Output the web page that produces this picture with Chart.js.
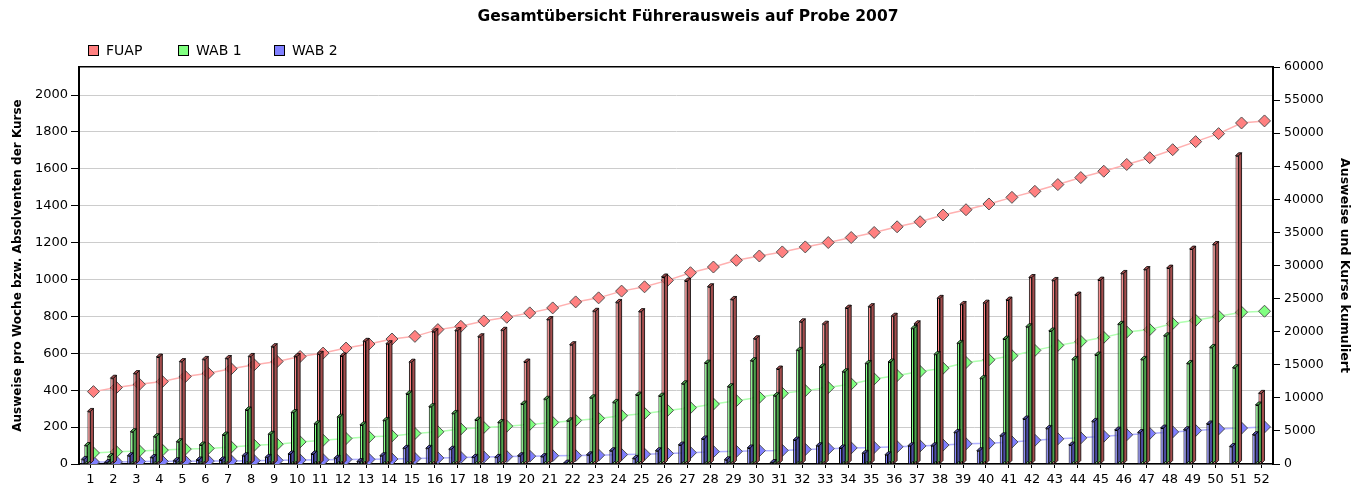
<!DOCTYPE html>
<html lang="de">
<head>
<meta charset="utf-8">
<title>Gesamtübersicht Führerausweis auf Probe 2007</title>
<script src="https://cdn.jsdelivr.net/npm/chart.js@4.4.1/dist/chart.umd.min.js"></script>
<style>
  html, body { margin: 0; padding: 0; background: #fff; }
  #wrap { position: relative; width: 1356px; height: 490px; }
  #title { position: absolute; left: 0; top: 7px; width: 1376px; text-align: center;
           font: bold 15.5px 'DejaVu Sans', sans-serif; color: #000; }
  #legend { position: absolute; left: 88px; top: 43px; font: 14px 'DejaVu Sans', sans-serif; color: #000; }
  #legend .item { position: absolute; top: 0; white-space: nowrap; line-height: 15px; }
  #legend .box { display: inline-block; width: 9px; height: 9px; border: 1px solid #000; vertical-align: -1px; margin-right: 7px; }
</style>
</head>
<body>
<div id="wrap">
  <canvas id="chart" width="1356" height="490"></canvas>
  <div id="title">Gesamtübersicht Führerausweis auf Probe 2007</div>
  <div id="legend"></div>
</div>
<script>
// Kalenderwochen
const weeks = ['1','2','3','4','5','6','7','8','9','10','11','12','13','14','15','16','17','18','19','20',
  '21','22','23','24','25','26','27','28','29','30','31','32','33','34','35','36','37','38','39','40',
  '41','42','43','44','45','46','47','48','49','50','51','52'];

// Ausweise pro Woche (linke Achse)
const fuap = [285, 465, 490, 580, 555, 567, 572, 583, 636, 583, 595, 586, 665, 652, 552, 717, 723, 690, 725, 553,
  783, 647, 828, 876, 826, 1014, 992, 961, 892, 679, 515, 771, 758, 845, 853, 801, 760, 898, 865, 872,
  889, 1011, 995, 916, 997, 1033, 1054, 1062, 1165, 1190, 1671, 383];
const wab1 = [100, 40, 175, 148, 121, 103, 157, 293, 161, 279, 218, 254, 212, 236, 380, 311, 274, 238, 225, 325,
  351, 234, 359, 334, 374, 368, 435, 547, 419, 560, 370, 616, 526, 500, 545, 553, 735, 594, 654, 464,
  677, 744, 721, 567, 591, 757, 567, 695, 545, 632, 522, 320];
const wab2 = [25, 8, 45, 35, 18, 22, 22, 45, 36, 54, 54, 31, 13, 45, 85, 85, 80, 36, 36, 45,
  40, 5, 50, 72, 30, 72, 103, 136, 23, 87, 8, 130, 99, 87, 58, 50, 99, 99, 171, 72,
  153, 244, 193, 103, 231, 184, 171, 195, 186, 217, 95, 159];

// kumuliert (rechte Achse)
const fuapCum = [10940, 11550, 12050, 12460, 13220, 13720, 14390, 14990, 15490, 16250, 16760, 17520, 18130, 18890, 19290, 20310, 20810, 21620, 22180, 22840,
  23590, 24500, 25110, 26130, 26780, 27750, 28910, 29770, 30790, 31440, 32050, 32810, 33470, 34230, 34990, 35850, 36610, 37630, 38430, 39300,
  40300, 41210, 42230, 43290, 44250, 45270, 46290, 47500, 48720, 49930, 51540, 51850];
const wab1Cum = [1670, 1850, 1980, 2100, 2250, 2350, 2560, 2830, 2990, 3340, 3590, 3850, 4100, 4250, 4610, 4860, 5300, 5520, 5720, 5980,
  6280, 6580, 6890, 7290, 7650, 8100, 8510, 9060, 9570, 10080, 10680, 11090, 11550, 12100, 12860, 13370, 13980, 14480, 15340, 15750,
  16360, 17170, 17930, 18530, 19140, 19950, 20310, 21220, 21720, 22330, 22940, 23090];
const wab2Cum = [300, 320, 360, 400, 420, 440, 470, 510, 550, 600, 650, 690, 700, 750, 830, 920, 1000, 1060, 1120, 1180,
  1260, 1270, 1340, 1430, 1480, 1580, 1710, 1870, 1910, 2020, 2050, 2200, 2320, 2430, 2510, 2600, 2730, 2860, 3050, 3150,
  3330, 3590, 3800, 3950, 4200, 4420, 4620, 4850, 5060, 5300, 5430, 5600];

// Achsenbeschriftung
const leftTicks = [0, 200, 400, 600, 800, 1000, 1200, 1400, 1600, 1800, 2000];
const rightTicks = [0, 5000, 10000, 15000, 20000, 25000, 30000, 35000, 40000, 45000, 50000, 55000, 60000];

const FONT = "'DejaVu Sans', sans-serif";

// simple 3D look: side + top face for every bar, drawn right after its dataset
const depth3d = {
  id: 'depth3d',
  afterDatasetDraw(chart, args) {
    const ds = chart.data.datasets[args.index];
    if (ds.type !== 'bar') return;
    const ctx = chart.ctx;
    const d = 3;
    ctx.save();
    ctx.lineWidth = 0.8;
    ctx.strokeStyle = '#000';
    ctx.fillStyle = ds.sideColor;
    args.meta.data.forEach(bar => {
      const p = bar.getProps(['x', 'y', 'base', 'width'], true);
      const l = p.x - p.width / 2, r = p.x + p.width / 2;
      ctx.beginPath();
      ctx.moveTo(r, p.base);
      ctx.lineTo(r, p.y);
      ctx.lineTo(r + d, p.y - d);
      ctx.lineTo(r + d, p.base - d);
      ctx.closePath();
      ctx.fill();
      ctx.stroke();
      ctx.beginPath();
      ctx.moveTo(l, p.y);
      ctx.lineTo(l + d, p.y - d);
      ctx.lineTo(r + d, p.y - d);
      ctx.lineTo(r, p.y);
      ctx.closePath();
      ctx.fill();
      ctx.stroke();
    });
    ctx.restore();
  }
};

function toPoints(values) {
  return values.map((v, i) => ({ x: Number(weeks[i]), y: v }));
}

function weekBar(label, values, front, side, order) {
  return {
    type: 'bar',
    label: label,
    data: values,
    backgroundColor: front,
    sideColor: side,
    borderColor: '#000',
    borderWidth: 1,
    borderSkipped: 'bottom',
    categoryPercentage: 0.8,
    barPercentage: 1.0,
    yAxisID: 'y',
    order: order
  };
}

function cumLine(label, values, line, fill) {
  return {
    type: 'line',
    label: label,
    data: toPoints(values),
    xAxisID: 'xLine',
    yAxisID: 'y2',
    borderColor: line,
    borderWidth: 1.5,
    pointStyle: 'rectRot',
    pointRadius: 6,
    pointBackgroundColor: fill,
    pointBorderColor: '#505050',
    pointBorderWidth: 1,
    order: 4
  };
}

function init() {
  const ctx = document.getElementById('chart').getContext('2d');

  const chart = new Chart(ctx, {
    type: 'bar',
    data: {
      labels: weeks,
      datasets: [
        weekBar('FUAP', fuap, '#ff8080', '#a34d4d', 3),
        weekBar('WAB 1', wab1, '#80ff80', '#4da34d', 2),
        weekBar('WAB 2', wab2, '#8080ff', '#4d4da3', 1),
        cumLine('FUAP kumuliert', fuapCum, '#ffb0b0', '#ff8080'),
        cumLine('WAB 1 kumuliert', wab1Cum, '#b0ffb0', '#80ff80'),
        cumLine('WAB 2 kumuliert', wab2Cum, '#b0b0ff', '#8080ff')
      ]
    },
    options: {
      responsive: false,
      animation: false,
      layout: { padding: { top: 67 } },
      plugins: {
        legend: { display: false },
        tooltip: { enabled: false },
        title: { display: false }
      },
      scales: {
        x: {
          type: 'category',
          offset: true,
          grid: { display: true, drawOnChartArea: false, offset: false, tickLength: 4, tickColor: '#000' },
          border: { color: '#000', width: 1.5 },
          ticks: { autoSkip: false, maxRotation: 0, color: '#000', font: { family: FONT, size: 13 }, padding: 4 },
          afterFit: s => { s.height = 26; }
        },
        xLine: {
          type: 'linear',
          position: 'top',
          offset: false,
          min: 0.37,
          max: 52.37,
          grid: { display: false },
          ticks: { display: false },
          border: { color: '#000', width: 1.5 },
          afterFit: s => { s.height = 0; }
        },
        y: {
          position: 'left',
          min: 0,
          max: 2152,
          afterBuildTicks: s => { s.ticks = leftTicks.map(v => ({ value: v })); },
          afterFit: s => { s.width = 79; },
          grid: { color: '#cccccc', lineWidth: 1, tickLength: 8, tickColor: '#000' },
          border: { color: '#000', width: 2 },
          ticks: { color: '#000', font: { family: FONT, size: 13 }, padding: 3, callback: v => String(v) },
          title: {
            display: true,
            text: 'Ausweise pro Woche bzw. Absolventen der Kurse',
            color: '#000',
            font: { family: FONT, size: 12, weight: 'bold' },
            padding: { top: 11, bottom: 0 }
          }
        },
        y2: {
          position: 'right',
          min: 0,
          max: 60000,
          afterBuildTicks: s => { s.ticks = rightTicks.map(v => ({ value: v })); },
          afterFit: s => { s.width = 83; },
          grid: { drawOnChartArea: false, tickLength: 7, tickColor: '#000' },
          border: { color: '#000', width: 2 },
          ticks: { color: '#000', font: { family: FONT, size: 12.5 }, padding: 4, callback: v => String(v) },
          title: {
            display: true,
            text: 'Ausweise und Kurse kumuliert',
            color: '#000',
            font: { family: FONT, size: 12.5, weight: 'bold' },
            padding: { top: 4, bottom: 0 }
          }
        }
      }
    },
    plugins: [depth3d]
  });

  // legend in HTML, only the weekly series
  const legend = document.getElementById('legend');
  const offsets = [0, 90, 186];
  chart.data.datasets.filter(ds => ds.type === 'bar').forEach((ds, i) => {
    const item = document.createElement('div');
    item.className = 'item';
    item.style.left = offsets[i] + 'px';
    const box = document.createElement('span');
    box.className = 'box';
    box.style.background = ds.backgroundColor;
    item.appendChild(box);
    item.appendChild(document.createTextNode(ds.label));
    legend.appendChild(item);
  });
}

document.addEventListener('DOMContentLoaded', init);
</script>
</body>
</html>
